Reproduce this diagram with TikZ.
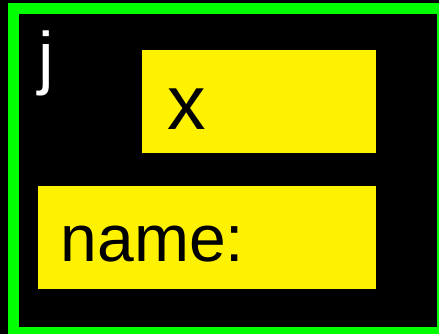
\documentclass[tikz,border=0pt]{standalone}
\usepackage{fontspec}
\setmainfont{Liberation Sans}
\tikzset{
    ybox/.style={fill=yellow, draw=none, anchor=north west, inner sep=0pt},
    btext/.style={anchor=base west, inner sep=0pt, text=black},
}
\begin{document}
\begin{tikzpicture}[x=1pt,y=-1pt]
        \useasboundingbox (0,0) rectangle (439,334);
        \fill[black] (0,0) rectangle (439,334);
        \draw[green, line width=11pt] (13.5,8.5) rectangle (442.5,332.5);
        \node[anchor=base west, inner sep=0pt, text=white] (jlabel) at (38,81.5) {\fontsize{70}{70}\selectfont j};
        \node[ybox, minimum width=234pt, minimum height=103pt] (xbox) at (142,50) {};
        \node[btext] (xlabel) at (167.5,130) {\fontsize{77}{77}\selectfont x};
        \node[ybox, minimum width=338.5pt, minimum height=103pt] (namebox) at (37.5,186) {};
        \node[btext] (namelabel) at (60.5,261) {\fontsize{66}{66}\selectfont name:};
\end{tikzpicture}
\end{document}
